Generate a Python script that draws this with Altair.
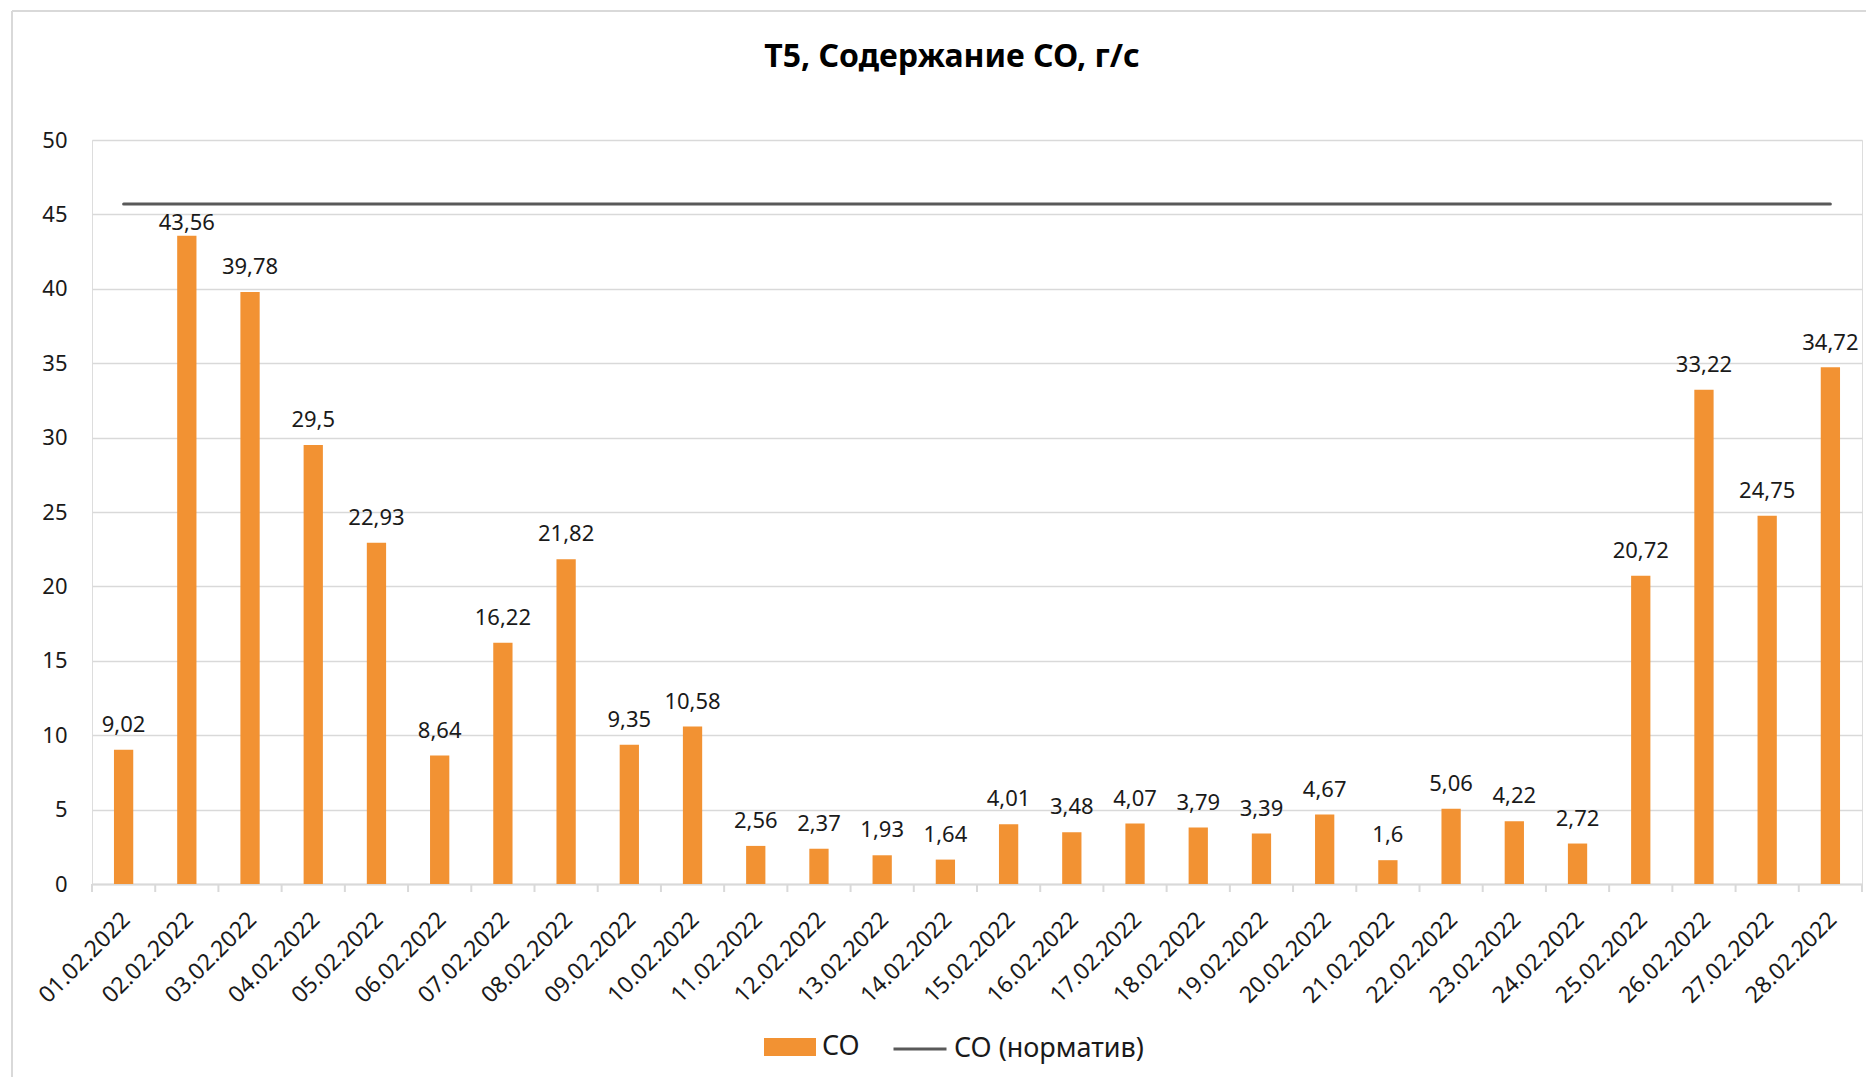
import altair as alt
import pandas as pd

dates = [f"{d:02d}.02.2022" for d in range(1, 29)]
co_values = [9.02, 43.56, 39.78, 29.5, 22.93, 8.64, 16.22, 21.82, 9.35, 10.58,
             2.56, 2.37, 1.93, 1.64, 4.01, 3.48, 4.07, 3.79, 3.39, 4.67,
             1.6, 5.06, 4.22, 2.72, 20.72, 33.22, 24.75, 34.72]
norm_value = 45.7
series_bar = "CO"
series_line = "CO (норматив)"
title_text = "T5, Содержание CO, г/с"
y_ticks = list(range(0, 55, 5))

df = pd.DataFrame({"date": dates, "v": co_values})
df["s1"] = series_bar
df["norm"] = norm_value
df["s2"] = series_line

FONT = "Noto Sans"
W, H = 1770, 744

x_enc = alt.X("date:N", sort=dates,
              scale=alt.Scale(paddingInner=0, paddingOuter=0),
              axis=alt.Axis(title=None, labelAngle=-45, labelFontSize=23,
                            labelColor="#1a1a1a", labelFont=FONT,
                            labelAlign="right", labelBaseline="top",
                            labelPadding=24, labelOffset=-5, ticks=False,
                            domainColor="#d9d9d9", domainWidth=2, grid=False))

y_scale = alt.Scale(domain=[0, 50], nice=False)

bars = alt.Chart(df).mark_bar(width=alt.RelativeBandSize(0.305)).encode(
    x=x_enc,
    y=alt.Y("v:Q", scale=y_scale,
            axis=alt.Axis(title=None, values=y_ticks, labelFontSize=22,
                          labelColor="#1a1a1a", labelFont=FONT,
                          labelPadding=25, domain=False, ticks=False,
                          gridColor="#d9d9d9", gridWidth=1.5)),
    color=alt.Color("s1:N",
                    scale=alt.Scale(domain=[series_bar], range=["#F29233"]),
                    legend=alt.Legend(title=None, orient="none",
                                      legendX=672, legendY=881,
                                      symbolType="M-1,-0.35H1V0.35H-1Z",
                                      symbolSize=2704, symbolStrokeWidth=0,
                                      labelFontSize=27, labelFont=FONT,
                                      labelColor="#1a1a1a", labelOffset=6,
                                      labelLimit=400)),
)

labels = alt.Chart(df).transform_calculate(
    txt="replace(toString(datum.v), '.', ',')",
    ly=f"datum.v + 1.2 > {norm_value} - 1.9 ? datum.v + 0.4 : datum.v + 1.2",
).mark_text(fontSize=22, font=FONT, color="#1a1a1a", baseline="alphabetic",
            align="center").encode(
    x=alt.X("date:N", sort=dates),
    y=alt.Y("ly:Q", scale=y_scale),
    text="txt:N",
)

line = alt.Chart(df).mark_line(strokeWidth=3, strokeCap="round").encode(
    x=alt.X("date:N", sort=dates),
    y=alt.Y("norm:Q", scale=y_scale),
    stroke=alt.Stroke("s2:N",
                      scale=alt.Scale(domain=[series_line], range=["#595959"]),
                      legend=alt.Legend(title=None, orient="none",
                                        legendX=800, legendY=881,
                                        symbolType="stroke", symbolSize=2809,
                                        symbolStrokeWidth=3,
                                        labelFontSize=27, labelFont=FONT,
                                        labelColor="#1a1a1a", labelOffset=6,
                                        labelLimit=400)),
)

ticks_left = alt.Chart(df).mark_rule(color="#d9d9d9", strokeWidth=2).encode(
    x=alt.X("date:N", sort=dates, bandPosition=0),
    y=alt.value(H), y2=alt.value(H + 8),
)
ticks_right = alt.Chart(df).transform_filter(
    f"datum.date == '{dates[-1]}'"
).mark_rule(color="#d9d9d9", strokeWidth=2).encode(
    x=alt.X("date:N", sort=dates, bandPosition=1),
    y=alt.value(H), y2=alt.value(H + 8),
)

border_left = alt.Chart(df).mark_rule(color="#d9d9d9", strokeWidth=2).encode(
    x=alt.value(-80), y=alt.value(-129), y2=alt.value(H + 200))
border_top = alt.Chart(df).mark_rule(color="#d9d9d9", strokeWidth=2).encode(
    x=alt.value(-80), x2=alt.value(W + 10), y=alt.value(-129))

title = alt.Chart(pd.DataFrame({"t": [title_text]})).mark_text(
    fontSize=32, font=FONT, fontWeight="bold", color="#000000",
    align="center", baseline="alphabetic").encode(
    x=alt.value(W / 2 - 25), y=alt.value(-73), text="t:N")

chart = alt.layer(border_left, border_top, bars, ticks_left, ticks_right,
                  line, labels, title).properties(
    width=W, height=H,
    autosize=alt.AutoSizeParams(type="none"),
    padding={"left": 84, "top": 132, "right": 4, "bottom": 193},
).configure_view(stroke=None).configure(background="white")

chart.save("out.html", embed_options={"renderer": "svg", "actions": False})
